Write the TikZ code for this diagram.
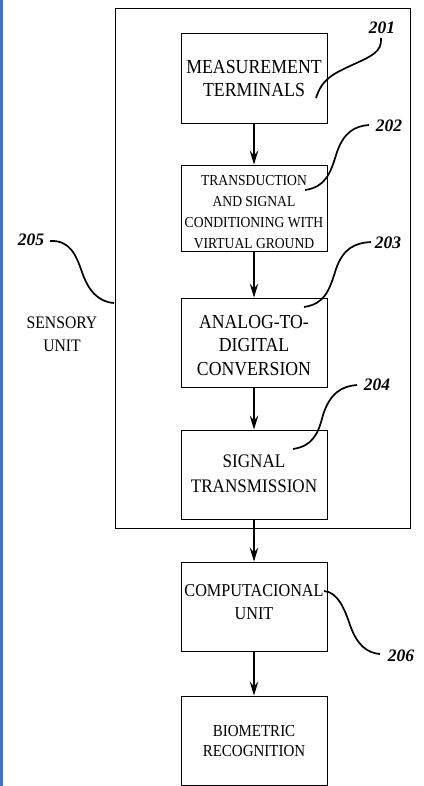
\documentclass[tikz,border=0pt]{standalone}
\usepackage{fontspec}
\setmainfont{Liberation Serif}
\usetikzlibrary{arrows.meta}
\definecolor{stripblue}{HTML}{4472C4}
\newcommand{\stl}[1]{\scalebox{1}[1.12]{#1}}
\begin{document}
\begin{tikzpicture}[x=1pt,y=-1pt,
  blk/.style={draw,line width=0.9pt,minimum width=146pt,minimum height=89pt,inner sep=0pt},
  txt/.style={align=center,inner sep=0pt},
  num/.style={font=\fontsize{17.5}{20}\selectfont\bfseries\itshape,inner sep=0pt},
  flow/.style={line width=1.1pt,-{Stealth[length=14pt,width=8.5pt,inset=5pt]}},
  lead/.style={line width=1.7pt}]
\useasboundingbox (0,0) rectangle (423,786);
\fill[stripblue] (0,0) rectangle (2.6,786);
% outer sensory box
\node[draw,line width=0.9pt,minimum width=295pt,minimum height=520pt,inner sep=0pt] (outer) at (262.5,268) {};
% blocks
\node[blk,minimum height=90pt] (b1) at (254,78) {};
\node[blk,minimum height=86pt] (b2) at (254,208) {};
\node[blk] (b3) at (254,342.5) {};
\node[blk] (b4) at (254,474.5) {};
\node[blk] (b5) at (254,606.5) {};
\node[blk] (b6) at (254,740.5) {};
% texts
\node[txt,font=\fontsize{17.8}{23.3}\selectfont] (t1) at (254,78.5) {\stl{MEASUREMENT}\\\stl{TERMINALS}};
\node[txt,font=\fontsize{13.6}{21}\selectfont] (t2) at (254,212.5) {\stl{TRANSDUCTION}\\\stl{AND SIGNAL}\\\stl{CONDITIONING WITH}\\\stl{VIRTUAL GROUND}};
\node[txt,font=\fontsize{17.7}{23.6}\selectfont] (t3) at (254,345.5) {\stl{ANALOG-TO-}\\\stl{DIGITAL}\\\stl{CONVERSION}};
\node[txt,font=\fontsize{17.1}{25}\selectfont] (t4) at (254,474) {\stl{SIGNAL}\\\stl{TRANSMISSION}};
\node[txt,font=\fontsize{16.2}{22.3}\selectfont] (t5) at (254,602) {\stl{COMPUTACIONAL}\\\stl{UNIT}};
\node[txt,font=\fontsize{15}{20.3}\selectfont] (t6) at (254,741) {\stl{BIOMETRIC}\\\stl{RECOGNITION}};
\node[txt,font=\fontsize{15.7}{23}\selectfont] (su) at (62,334.5) {\stl{SENSORY}\\\stl{UNIT}};
% flow arrows
\draw[flow] (b1.south) -- (b2.north);
\draw[flow] (b2.south) -- (b3.north);
\draw[flow] (b3.south) -- (b4.north);
\draw[flow] (b4.south) -- (b5.north);
\draw[flow] (b5.south) -- (b6.north);
% reference numbers
\node[num] (n201) at (382,28) {201};
\node[num] (n202) at (389,126) {202};
\node[num] (n203) at (388,243) {203};
\node[num] (n204) at (377,385) {204};
\node[num] (n205) at (31,240) {205};
\node[num] (n206) at (401,656) {206};
% leader lines
\coordinate (l1) at (316,98);
\coordinate (l2) at (305,190);
\coordinate (l3) at (304,307);
\coordinate (l4) at (293,449);
\coordinate (l5) at (114,303);
\coordinate (l6) at (324,591);
\draw[lead] (l1) .. controls (322,79) and (333,74) .. (350,66) .. controls (372,56) and (382,52) .. (381,38);
\draw[lead] (l2) .. controls (325,187) and (330,175) .. (337,152) .. controls (344,132) and (355,126) .. (369,125);
\draw[lead] (l3) .. controls (324,304) and (329,292) .. (336,269) .. controls (343,249) and (354,243) .. (371,242);
\draw[lead] (l4) .. controls (312,446) and (318,435) .. (323,415) .. controls (330,393) and (342,386) .. (357,385);
\draw[lead] (50,241) .. controls (70,240) and (76,255) .. (82,272) .. controls (88,290) and (98,302) .. (l5);
\draw[lead] (l6) .. controls (338,592) and (345,610) .. (350,625) .. controls (357,645) and (367,653) .. (380,654);
\end{tikzpicture}
\end{document}
